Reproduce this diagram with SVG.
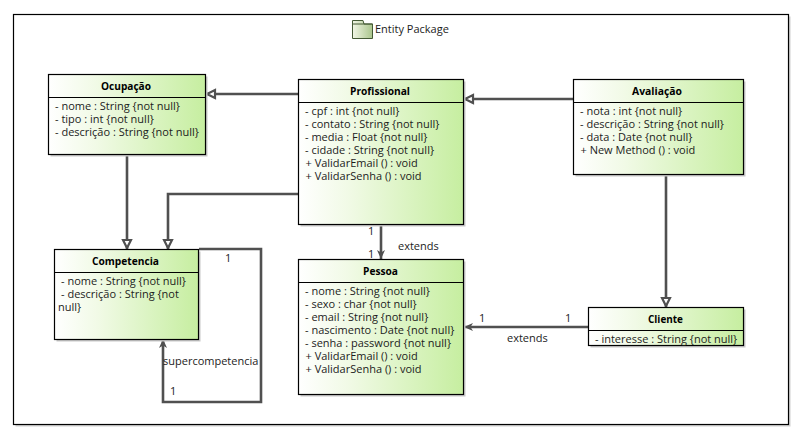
<svg xmlns="http://www.w3.org/2000/svg" width="806" height="442" viewBox="0 0 806 442">
<defs>
<linearGradient id="g" x1="0" y1="0" x2="1" y2="0"><stop offset="0" stop-color="#ffffff"/><stop offset="0.3" stop-color="#f1fae6"/><stop offset="1" stop-color="#c6eea0"/></linearGradient>
<linearGradient id="p" x1="0" y1="0" x2="1" y2="0"><stop offset="0" stop-color="#f2f6e6"/><stop offset="1" stop-color="#a9c58c"/></linearGradient>
<marker id="tri" markerUnits="userSpaceOnUse" markerWidth="14" markerHeight="14" refX="10.5" refY="6" orient="auto"><path d="M1.5,2 L9.5,6 L1.5,10 Z" fill="#fff" stroke="#505050" stroke-width="2.2"/></marker>
<marker id="arr" markerUnits="userSpaceOnUse" markerWidth="12" markerHeight="12" refX="9" refY="5" orient="auto"><path d="M0,1 L9,5 L0,9 L2.5,5 Z" fill="#505050"/></marker>
</defs>
<style>
text{font-family:"Open Sans","Noto Sans","Liberation Sans",sans-serif;font-size:11px;fill:#1c1c1c}
.t{font-weight:700;text-anchor:middle;fill:#000}
.b{fill:url(#g);stroke:#000;stroke-width:1.2}
.s{fill:#c8c8c8}
.h{stroke:#000;stroke-width:1.2}
.c{fill:none;stroke:#505050;stroke-width:2.6}
</style>
<rect width="806" height="442" fill="#fff"/>
<g id="frame">
<rect x="15.5" y="16.5" width="775" height="410" fill="#d0d0d0"/>
<rect x="13.5" y="14.5" width="775" height="410" fill="#fff" stroke="#000" stroke-width="1.2"/>
<path d="M352.5,20.5 h10.5 l1,3.5 h8.5 v14.5 h-20 Z" fill="url(#p)" stroke="#445a35"/>
<path d="M352.5,24 h20" stroke="#445a35" fill="none"/>
<text x="375" y="33">Entity Package</text>
</g>
<g id="connectors">
<path class="c" d="M298,94 H206" marker-end="url(#tri)"/>
<path class="c" d="M573,99 H464" marker-end="url(#tri)"/>
<path class="c" d="M127,155 V249" marker-end="url(#tri)"/>
<path class="c" d="M298,194 H168 V249" marker-end="url(#tri)"/>
<path class="c" d="M666,175 V307" marker-end="url(#tri)"/>
<path class="c" d="M381,225 V259" marker-end="url(#arr)"/>
<path class="c" d="M588,327 H464" marker-end="url(#arr)"/>
<path class="c" d="M199,249 H261 V402 H163 V339" marker-end="url(#arr)"/>
<text x="368" y="235">1</text>
<text x="368" y="258">1</text>
<text x="398" y="250">extends</text>
<text x="479" y="322">1</text>
<text x="565" y="322">1</text>
<text x="507" y="342">extends</text>
<text x="225" y="262">1</text>
<text x="170" y="395">1</text>
<text x="163" y="365">supercompetencia</text>
</g>
<g id="ocupacao">
<rect class="s" x="50.5" y="76.5" width="157" height="80"/>
<rect class="b" x="48.5" y="74.5" width="157" height="80"/>
<path class="h" d="M48.5,97.5 H205.5"/>
<text class="t" x="126" y="90" textLength="50" lengthAdjust="spacingAndGlyphs">Ocupação</text>
<text x="55" y="110">- nome : String {not null}</text>
<text x="55" y="123">- tipo : int {not null}</text>
<text x="55" y="136">- descrição : String {not null}</text>
</g>
<g id="profissional">
<rect class="s" x="300.5" y="81.5" width="165" height="145"/>
<rect class="b" x="298.5" y="79.5" width="165" height="145"/>
<path class="h" d="M298.5,102.5 H463.5"/>
<text class="t" x="380" y="95" textLength="60" lengthAdjust="spacingAndGlyphs">Profissional</text>
<text x="305" y="115">- cpf : int {not null}</text>
<text x="305" y="128">- contato : String {not null}</text>
<text x="305" y="141">- media : Float {not null}</text>
<text x="305" y="154">- cidade : String {not null}</text>
<text x="305.5" y="167">+ ValidarEmail () : void</text>
<text x="305.5" y="180">+ ValidarSenha () : void</text>
</g>
<g id="avaliacao">
<rect class="s" x="575.5" y="81.5" width="170" height="95"/>
<rect class="b" x="573.5" y="79.5" width="170" height="95"/>
<path class="h" d="M573.5,102.5 H743.5"/>
<text class="t" x="657" y="95" textLength="50" lengthAdjust="spacingAndGlyphs">Avaliação</text>
<text x="580" y="115">- nota : int {not null}</text>
<text x="580" y="128">- descrição : String {not null}</text>
<text x="580" y="141">- data : Date {not null}</text>
<text x="580.5" y="154">+ New Method () : void</text>
</g>
<g id="competencia">
<rect class="s" x="56.5" y="251.5" width="144" height="90"/>
<rect class="b" x="54.5" y="249.5" width="144" height="90"/>
<path class="h" d="M54.5,272.5 H198.5"/>
<text class="t" x="125.5" y="265" textLength="67" lengthAdjust="spacingAndGlyphs">Competencia</text>
<text x="61" y="285">- nome : String {not null}</text>
<text x="61" y="298">- descrição : String {not</text>
<text x="58" y="311">null}</text>
</g>
<g id="pessoa">
<rect class="s" x="300.5" y="261.5" width="165" height="135"/>
<rect class="b" x="298.5" y="259.5" width="165" height="135"/>
<path class="h" d="M298.5,282.5 H463.5"/>
<text class="t" x="380.5" y="275" textLength="35" lengthAdjust="spacingAndGlyphs">Pessoa</text>
<text x="305" y="295">- nome : String {not null}</text>
<text x="305" y="308">- sexo : char {not null}</text>
<text x="305" y="321">- email : String {not null}</text>
<text x="305" y="334">- nascimento : Date {not null}</text>
<text x="305" y="347">- senha : password {not null}</text>
<text x="305.5" y="360">+ ValidarEmail () : void</text>
<text x="305.5" y="373">+ ValidarSenha () : void</text>
</g>
<g id="cliente">
<rect class="s" x="590.5" y="309.5" width="155" height="38"/>
<rect class="b" x="588.5" y="307.5" width="155" height="38"/>
<path class="h" d="M588.5,330.5 H743.5"/>
<text class="t" x="665.5" y="323" textLength="35" lengthAdjust="spacingAndGlyphs">Cliente</text>
<text x="595" y="343">- interesse : String {not null}</text>
</g>
</svg>
